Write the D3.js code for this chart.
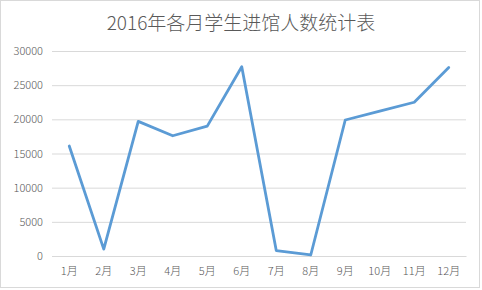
<!DOCTYPE html>
<html><head><meta charset="utf-8">
<script src="https://cdn.jsdelivr.net/npm/d3@7"></script>
<style>body{margin:0;background:#fff}svg{display:block}</style>
</head><body>
<script>
const months = ["1月","2月","3月","4月","5月","6月","7月","8月","9月","10月","11月","12月"];
const visitors = [16100, 1000, 19700, 17600, 19000, 27700, 800, 150, 19900, 21200, 22500, 27600];
const yTicks = [0, 5000, 10000, 15000, 20000, 25000, 30000];
const title = "2016年各月学生进馆人数统计表";

const W = 482, H = 290;
const m = {left: 52, right: 16, top: 51, bottom: 34};
const svg = d3.select("body").append("svg").attr("width", W).attr("height", H);
const font = "'Noto Sans CJK SC', 'Noto Sans', sans-serif";

svg.append("rect").attr("x", 0.5).attr("y", 0.5).attr("width", W - 3).attr("height", H - 3)
  .attr("fill", "#fff").attr("stroke", "#d9d9d9");

const x = d3.scaleBand().domain(months).range([m.left, W - m.right]);
const y = d3.scaleLinear().domain([0, 30000]).range([H - m.bottom, m.top]);

const gy = svg.append("g").attr("transform", `translate(${m.left},0)`)
  .call(d3.axisLeft(y).tickValues(yTicks).tickSize(-(W - m.left - m.right)).tickPadding(9).tickFormat(d3.format("d")));
gy.select(".domain").remove();
gy.selectAll(".tick line").attr("stroke", "#d9d9d9");
gy.selectAll(".tick text").attr("fill", "#595959").style("font-family", font).style("font-size", "11px").style("font-weight", 300);

const gx = svg.append("g").attr("transform", `translate(0,${H - m.bottom})`)
  .call(d3.axisBottom(x).tickSize(0).tickPadding(11));
gx.select(".domain").attr("stroke", "#d9d9d9");
gx.selectAll(".tick text").attr("fill", "#595959").style("font-family", font).style("font-size", "11px").style("font-weight", 300);

const line = d3.line().x((d, i) => x(months[i]) + x.bandwidth() / 2).y(d => y(d));
svg.append("path").datum(visitors).attr("d", line)
  .attr("fill", "none").attr("stroke", "#5B9BD5").attr("stroke-width", 2.8)
  .attr("stroke-linejoin", "round").attr("stroke-linecap", "round");

svg.append("text").attr("x", 241).attr("y", 30).attr("text-anchor", "middle")
  .attr("fill", "#595959").style("font-family", font).style("font-size", "19px").style("font-weight", 300)
  .text(title);
</script>
</body></html>
